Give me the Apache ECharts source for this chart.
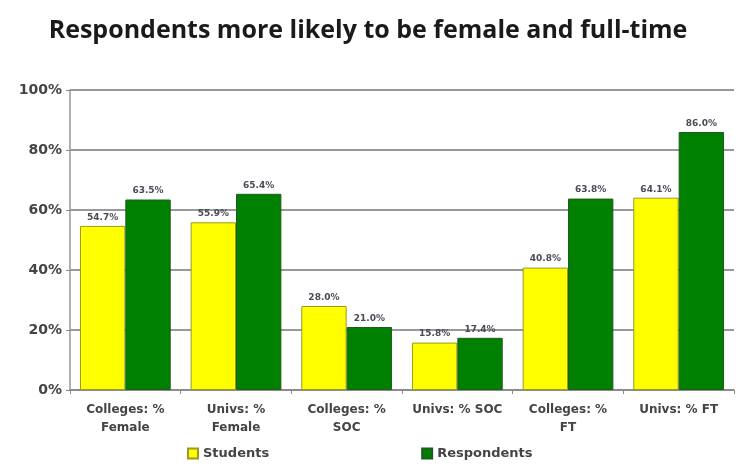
<!DOCTYPE html>
<html lang="en">
<head>
    <meta charset="UTF-8">
    <title>Respondents</title>
    <script src="https://cdn.jsdelivr.net/npm/echarts@6/dist/echarts.min.js"></script>
    <style>
        html, body {margin: 0; padding: 0; background: #fff;}
        #main {width: 736px; height: 466px;}
    </style>
</head>
<body>
<div id="main"></div>
<script>
    // data
    var categories = ['Colleges: %\nFemale', 'Univs: %\nFemale', 'Colleges: %\nSOC', 'Univs: % SOC', 'Colleges: %\nFT', 'Univs: % FT'];
    var students = [54.7, 55.9, 28.0, 15.8, 40.8, 64.1];
    var respondents = [63.5, 65.4, 21.0, 17.4, 63.8, 86.0];
    var yTicks = [0, 20, 40, 60, 80, 100];

    var labelStyle = {
        show: true,
        position: 'top',
        distance: 4,
        fontFamily: 'DejaVu Sans',
        fontSize: 9,
        fontWeight: 'bold',
        color: '#4a4a55',
        formatter: function (p) { return p.value.toFixed(1) + '%'; }
    };

    var myChart = echarts.init(document.getElementById('main'));
    var option = {
        animation: false,
        title: {
            text: 'Respondents more likely to be female and full-time',
            left: 'center',
            top: 13,
            textStyle: {fontFamily: 'Open Sans', fontSize: 25, fontWeight: 'bold', color: '#1a1a1a'}
        },
        legend: {
            bottom: 1,
            left: 182,
            itemGap: 152,
            itemWidth: 10,
            itemHeight: 10,
            icon: 'rect',
            textStyle: {fontFamily: 'DejaVu Sans', fontSize: 13, fontWeight: 'bold', color: '#444'},
            data: ['Students', 'Respondents']
        },
        grid: {left: 70, right: 2, top: 90, bottom: 76},
        xAxis: {
            type: 'category',
            data: categories,
            axisLine: {lineStyle: {color: '#888', width: 1.5}},
            axisTick: {show: true, length: 4, lineStyle: {color: '#888'}},
            axisLabel: {
                interval: 0,
                margin: 11,
                fontFamily: 'DejaVu Sans',
                fontSize: 12,
                fontWeight: 'bold',
                color: '#444',
                lineHeight: 18
            }
        },
        yAxis: {
            type: 'value',
            min: yTicks[0],
            max: yTicks[yTicks.length - 1],
            interval: 20,
            axisLine: {show: true, lineStyle: {color: '#999', width: 1.5}},
            axisTick: {show: true, length: 4, lineStyle: {color: '#888'}},
            splitLine: {lineStyle: {color: '#777', width: 1.5}},
            axisLabel: {
                formatter: '{value}%',
                margin: 8,
                fontFamily: 'DejaVu Sans',
                fontSize: 14,
                fontWeight: 'bold',
                color: '#444'
            }
        },
        series: [
            {
                name: 'Students',
                type: 'bar',
                data: students,
                barGap: '0%',
                barCategoryGap: '18%',
                itemStyle: {color: '#ffff00', borderColor: '#9a9a20', borderWidth: 1},
                label: labelStyle
            },
            {
                name: 'Respondents',
                type: 'bar',
                data: respondents,
                itemStyle: {color: '#008000', borderColor: '#1f5a1f', borderWidth: 1},
                label: labelStyle
            }
        ]
    };
    myChart.setOption(option);
</script>
</body>
</html>
